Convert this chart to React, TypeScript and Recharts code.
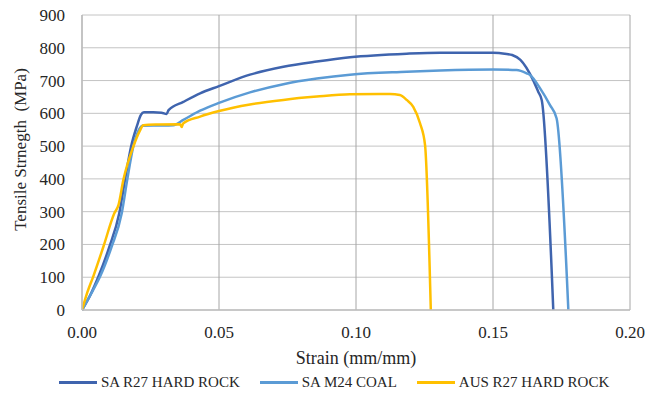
import React from "react";
import {
  LineChart,
  Line,
  XAxis,
  YAxis,
  CartesianGrid,
  Legend,
  Label,
} from "recharts";

const xTicks = [0, 0.05, 0.1, 0.15, 0.2];
const yTicks = [0, 100, 200, 300, 400, 500, 600, 700, 800, 900];

const saR27Strain = [
  0, 0.003, 0.006, 0.01, 0.0136, 0.0157, 0.0179, 0.02, 0.0215, 0.0226, 0.026,
  0.029, 0.0309, 0.0316, 0.037, 0.0431, 0.05, 0.0613, 0.0735, 0.0857, 0.0978,
  0.1185, 0.1307, 0.15, 0.155, 0.157, 0.16, 0.1646, 0.1665, 0.1678, 0.172,
];
const saR27Stress = [
  0, 45, 102, 193, 295, 397, 498, 560, 595, 603, 603, 602, 598, 610, 635, 661,
  683, 718, 742, 758, 771, 782, 785, 785, 781, 778, 763, 702, 666, 640, 0,
];

const saM24Strain = [
  0, 0.004, 0.0066, 0.0108, 0.0145, 0.0165, 0.0187, 0.0205, 0.022, 0.026, 0.03,
  0.0333, 0.037, 0.0431, 0.05, 0.0613, 0.0735, 0.0857, 0.0978, 0.1185, 0.1307,
  0.15, 0.1586, 0.1623, 0.1635, 0.1672, 0.1708, 0.1732, 0.1775,
];
const saM24Stress = [
  0, 60, 102, 193, 295, 397, 498, 545, 562, 563, 563, 564, 580, 608, 632, 664,
  689, 706, 718, 727, 731, 734, 732, 722, 717, 676, 625, 585, 0,
];

const ausR27Strain = [
  0, 0.002, 0.0041, 0.0078, 0.0118, 0.0133, 0.0151, 0.0187, 0.021, 0.0224,
  0.028, 0.0358, 0.0364, 0.0369, 0.0431, 0.05, 0.0613, 0.0735, 0.0857, 0.0978,
  0.1124, 0.116, 0.1185, 0.1209, 0.1234, 0.1252, 0.1273,
];
const ausR27Stress = [
  0, 55, 102, 193, 295, 320, 397, 498, 545, 564, 566, 567, 558, 569, 590, 607,
  627, 641, 651, 658, 659, 656, 641, 620, 569, 503, 0,
];

const zip = (xs: number[], ys: number[]) => xs.map((x, i) => ({ x, y: ys[i] }));

const series = [
  { name: "SA R27 HARD ROCK", color: "#3f64ae", data: zip(saR27Strain, saR27Stress) },
  { name: "SA M24 COAL", color: "#5b9bd5", data: zip(saM24Strain, saM24Stress) },
  { name: "AUS R27 HARD ROCK", color: "#ffc000", data: zip(ausR27Strain, ausR27Stress) },
];

const font = '"Liberation Serif", "DejaVu Serif", serif';

function LegendContent() {
  return (
    <div
      style={{
        display: "flex",
        alignItems: "center",
        paddingLeft: 59,
        fontFamily: font,
        fontSize: 15,
        color: "#262626",
        whiteSpace: "nowrap",
      }}
    >
      {series.map((s) => (
        <div key={s.name} style={{ display: "flex", alignItems: "center", marginRight: 20 }}>
          <div style={{ width: 38, height: 3, background: s.color, marginRight: 4 }} />
          <span>{s.name}</span>
        </div>
      ))}
    </div>
  );
}

const tickStyle = { fill: "#262626", fontSize: 17, style: { fontFamily: font } };

export default function App() {
  return (
    <div style={{ position: "absolute", left: 0, top: 0, background: "#fff", fontFamily: font }}>
      <LineChart
        width={646}
        height={398}
        margin={{ top: 15, right: 16, left: 0, bottom: 0 }}
        style={{ fontFamily: font }}
      >
        <CartesianGrid horizontal={true} vertical={false} stroke="#c4c4c4" />
        <CartesianGrid horizontal={false} vertical={true} stroke="#a6a6a6" />
        <XAxis
          dataKey="x"
          type="number"
          domain={[0, 0.2]}
          ticks={xTicks}
          tickFormatter={(v: number) => v.toFixed(2)}
          height={88}
          tickLine={false}
          tickMargin={10}
          stroke="#bfbfbf"
          strokeWidth={1.5}
          tick={tickStyle}
          allowDataOverflow
        >
          <Label
            content={({ viewBox }: any) => (
              <text
                x={viewBox.x + viewBox.width / 2}
                y={viewBox.y + 54}
                textAnchor="middle"
                fill="#262626"
                style={{ fontFamily: font, fontSize: 18 }}
              >
                Strain (mm/mm)
              </text>
            )}
          />
        </XAxis>
        <YAxis
          type="number"
          domain={[0, 900]}
          ticks={yTicks}
          width={82}
          tickLine={false}
          tickMargin={11}
          stroke="#bfbfbf"
          strokeWidth={1.5}
          tick={tickStyle}
        >
          <Label
            content={({ viewBox }: any) => {
              const cx = 26;
              const cy = viewBox.y + viewBox.height / 2 - 13;
              return (
                <text
                  x={cx}
                  y={cy}
                  transform={`rotate(-90, ${cx}, ${cy})`}
                  textAnchor="middle"
                  fill="#262626"
                  style={{ fontFamily: font, fontSize: 17, whiteSpace: "pre" }}
                >
                  {"Tensile Strnegth  (MPa)"}
                </text>
              );
            }}
          />
        </YAxis>
        <Legend
          verticalAlign="middle"
          align="center"
          layout="horizontal"
          wrapperStyle={{ top: 374, left: 0, width: 646 }}
          content={() => <LegendContent />}
        />
        {series.map((s) => (
          <Line
            key={s.name}
            data={s.data}
            dataKey="y"
            name={s.name}
            type="monotone"
            stroke={s.color}
            strokeWidth={2.5}
            dot={false}
            activeDot={false}
            isAnimationActive={false}
          />
        ))}
      </LineChart>
    </div>
  );
}
